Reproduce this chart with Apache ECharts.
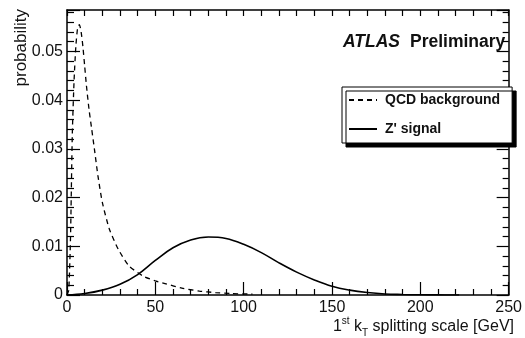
<!DOCTYPE html>
<html>
<head>
<meta charset="utf-8">
<script src="https://cdn.jsdelivr.net/npm/echarts@6/dist/echarts.min.js"></script>
<style>html,body{margin:0;padding:0;background:#fff;}#c{width:525px;height:338px;}</style>
</head>
<body>
<div id="c"></div>
<script>
const qcdX = [0, 1, 2, 3, 4, 5, 6, 7, 8, 9, 10, 11, 12.5, 14, 15.5, 17.5, 20, 24, 29, 35, 43, 50, 56, 65, 75, 84, 93, 103, 105];
const qcdY = [0, 0.001, 0.012, 0.033, 0.044, 0.051, 0.0548, 0.0555, 0.054, 0.051, 0.047, 0.043, 0.038, 0.034, 0.030, 0.0245, 0.019, 0.0135, 0.0094, 0.006, 0.0039, 0.0029, 0.0023, 0.0014, 0.0008, 0.0005, 0.0003, 0.0002, 0.0002];
const sigX = [0, 10, 20, 30, 40, 50, 60, 70, 80, 90, 100, 110, 120, 130, 140, 150, 160, 170, 180, 190, 200, 210, 222];
const sigY = [0, 0.0003, 0.001, 0.0022, 0.0042, 0.0071, 0.0097, 0.0113, 0.0119, 0.0116, 0.0104, 0.0087, 0.0066, 0.0047, 0.0031, 0.0018, 0.001, 0.0005, 0.0002, 0.0001, 0.00004, 0.00002, 0];
const seriesNames = ['QCD background', "Z' signal"];
const xTicks = [0, 50, 100, 150, 200, 250];
const yTicks = [0, 0.01, 0.02, 0.03, 0.04, 0.05];

const chart = echarts.init(document.getElementById('c'), null, {renderer: 'canvas'});
const FONT = 'Liberation Sans, Arial, Helvetica, sans-serif';
const pair = (xs, ys) => xs.map((x, i) => [x, ys[i]]);
const axisLine = {show: true, onZero: false, lineStyle: {color: '#000', width: 1.5}};

chart.setOption({
  animation: false,
  backgroundColor: '#fff',
  grid: {left: 67, right: 11, top: 10, bottom: 43, containLabel: false},
  xAxis: [
    {type: 'value', position: 'bottom', min: xTicks[0], max: xTicks[xTicks.length - 1], interval: 50,
     axisLine, splitLine: {show: false},
     axisTick: {show: true, inside: true, length: 13, lineStyle: {color: '#000', width: 1.2}},
     minorTick: {show: true, splitNumber: 5, length: 6, lineStyle: {color: '#000', width: 1.2}},
     axisLabel: {show: true, fontSize: 16, color: '#111', fontFamily: FONT, margin: 5}},
    {type: 'value', position: 'top', min: 0, max: 250, interval: 10,
     axisLine, splitLine: {show: false},
     axisTick: {show: true, inside: true, length: 6, lineStyle: {color: '#000', width: 1.2}},
     axisLabel: {show: false}}
  ],
  yAxis: [
    {type: 'value', position: 'left', min: yTicks[0], max: 0.0585, interval: 0.01,
     axisLine, splitLine: {show: false},
     axisTick: {show: true, inside: true, length: 13, lineStyle: {color: '#000', width: 1.2}},
     minorTick: {show: true, splitNumber: 5, length: 7, lineStyle: {color: '#000', width: 1.2}},
     axisLabel: {show: true, fontSize: 16, color: '#111', fontFamily: FONT, margin: 4, showMaxLabel: false,
       formatter: v => (v === 0 ? '0' : v.toFixed(2))}},
    {type: 'value', position: 'right', min: 0, max: 0.0585, interval: 0.01,
     axisLine, splitLine: {show: false},
     axisTick: {show: true, inside: true, length: 12, lineStyle: {color: '#000', width: 1.2}},
     minorTick: {show: true, splitNumber: 5, length: 6, lineStyle: {color: '#000', width: 1.2}},
     axisLabel: {show: false}}
  ],
  legend: {
    show: true, orient: 'vertical', left: 342, top: 87,
    padding: [6, 12, 7, 6], itemGap: 15, itemWidth: 28, itemHeight: 14,
    backgroundColor: '#fff', borderColor: '#000', borderWidth: 1,
    shadowColor: '#000', shadowOffsetX: 4, shadowOffsetY: 4, shadowBlur: 0,
    itemStyle: {opacity: 0},
    lineStyle: {opacity: 1},
    textStyle: {fontFamily: FONT, fontWeight: 'bold', fontSize: 14, color: '#111', padding: [0, 0, 0, 3]},
    data: seriesNames
  },
  graphic: [
    {type: 'text', left: 343, top: 33, style: {text: 'ATLAS', font: 'italic bold 17.5px ' + FONT, fill: '#111'}},
    {type: 'text', left: 410, top: 33, style: {text: 'Preliminary', font: 'bold 17.5px ' + FONT, fill: '#111'}},
    {type: 'text', x: 21, y: 9, rotation: Math.PI / 2,
     style: {text: 'probability', font: '17px ' + FONT, fill: '#111', align: 'right', verticalAlign: 'middle'}},
    {type: 'text', x: 514, y: 327,
     style: {text: '1{sup|st} k{sub|T} splitting scale [GeV]', font: '16px ' + FONT, fill: '#111',
       align: 'right', verticalAlign: 'middle', lineHeight: 22,
       rich: {sup: {fontSize: 10, fontFamily: FONT, verticalAlign: 'top', lineHeight: 22},
              sub: {fontSize: 10, fontFamily: FONT, verticalAlign: 'bottom', lineHeight: 18}}}}
  ],
  series: [
    {name: seriesNames[0], type: 'line', data: pair(qcdX, qcdY), showSymbol: false, symbol: 'none', smooth: 0.2,
     lineStyle: {color: '#000', width: 1.3, type: [5, 4]}, itemStyle: {color: '#000'}},
    {name: seriesNames[1], type: 'line', data: pair(sigX, sigY), showSymbol: false, symbol: 'none', smooth: 0.4,
     lineStyle: {color: '#000', width: 1.6, type: 'solid'}, itemStyle: {color: '#000'}}
  ]
});
</script>
</body>
</html>
